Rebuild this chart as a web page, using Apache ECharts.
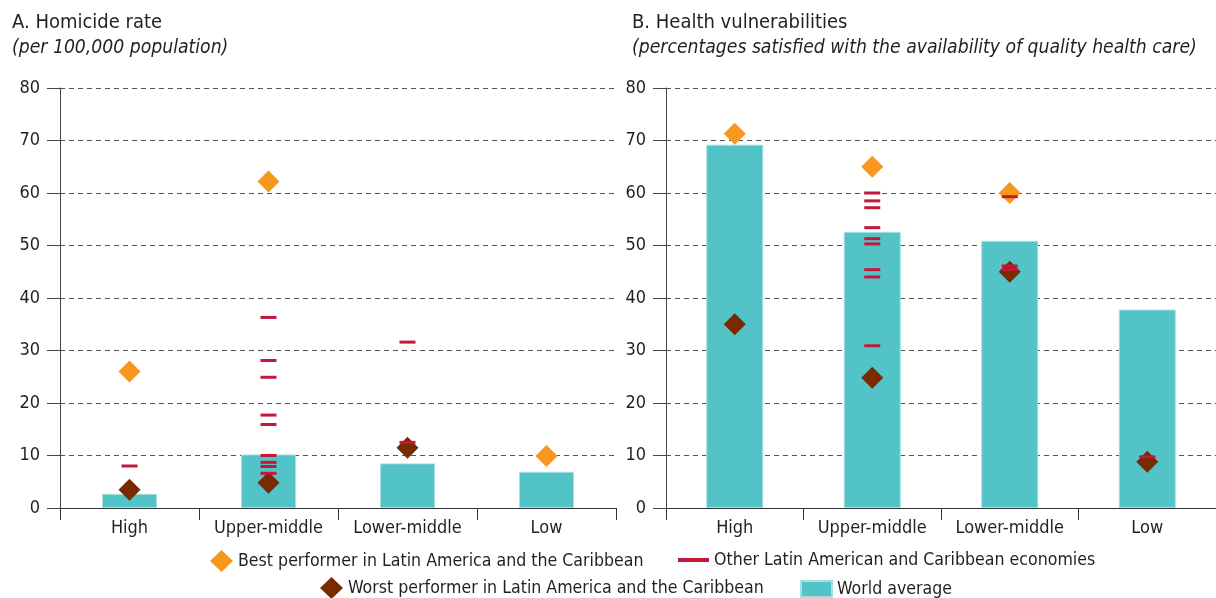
<!DOCTYPE html>
<html>
<head>
<meta charset="utf-8">
<script src="https://cdn.jsdelivr.net/npm/echarts@6/dist/echarts.min.js"></script>
<style>
  html, body { margin:0; padding:0; background:#fff; }
  #chart { width:1216px; height:598px; }
</style>
</head>
<body>
<div id="chart"></div>
<script>
const categories = ['High', 'Upper-middle', 'Lower-middle', 'Low']
const yTicks = [0, 10, 20, 30, 40, 50, 60, 70, 80]

// panel A: homicide rate per 100,000
const homicideWorld = [2.7, 10.2, 8.5, 6.9]
const homicideBest = [26, 62.2, null, 9.9]
const homicideWorst = [3.5, 4.8, 11.5, null]
const homicideOther = [
  ['High', 8],
  ['Upper-middle', 36.3], ['Upper-middle', 28.1], ['Upper-middle', 24.9],
  ['Upper-middle', 17.7], ['Upper-middle', 15.9], ['Upper-middle', 10.0],
  ['Upper-middle', 8.7], ['Upper-middle', 7.9], ['Upper-middle', 6.6],
  ['Lower-middle', 31.6], ['Lower-middle', 12.5],
]

// panel B: % satisfied with quality health care
const healthWorld = [69.2, 52.6, 50.9, 37.8]
const healthBest = [71.3, 65, 60, null]
const healthWorst = [35, 24.8, 45, 8.8]
const healthOther = [
  ['Upper-middle', 60.0], ['Upper-middle', 58.5], ['Upper-middle', 57.2],
  ['Upper-middle', 53.4], ['Upper-middle', 51.3], ['Upper-middle', 50.3],
  ['Upper-middle', 45.4], ['Upper-middle', 44.0], ['Upper-middle', 30.9],
  ['Lower-middle', 59.3], ['Lower-middle', 46.1], ['Lower-middle', 45.4],
  ['Low', 9.75],
]

const NAME_BEST = 'Best performer in Latin America and the Caribbean'
const NAME_WORST = 'Worst performer in Latin America and the Caribbean'
const NAME_OTHER = 'Other Latin American and Caribbean economies'
const NAME_WORLD = 'World average'

const FONT = "'Liberation Sans Narrow', 'DejaVu Sans Condensed', sans-serif"
const TEXT = '#231f20'
const TEAL = '#52c3c7'
const ORANGE = '#f7971e'
const BROWN = '#7a2a00'
const RED = '#c3183a'

function xAxisFor(gridIndex){
  return {
    type: 'category', gridIndex, data: categories,
    axisLine: { lineStyle: { color: '#333', width: 1 } },
    axisTick: { show: true, length: 12, interval: 0, lineStyle: { color: '#333' } },
    axisLabel: { fontFamily: FONT, fontSize: 18, color: TEXT, margin: 11, interval: 0 },
    splitLine: { show: false },
  }
}

function yAxisFor(gridIndex){
  return {
    type: 'value', gridIndex, min: yTicks[0], max: yTicks[yTicks.length - 1], interval: 10,
    axisLine: { show: true, lineStyle: { color: '#444', width: 1 } },
    axisTick: { show: true, length: 13, lineStyle: { color: '#444' } },
    axisLabel: { fontFamily: FONT, fontSize: 18, color: TEXT, margin: 20 },
    splitLine: { show: true, lineStyle: { color: '#555', type: [5, 4], width: 1 } },
  }
}

function seriesFor(idx, world, best, worst, other, barWidth){
  return [
    {
      name: NAME_WORLD, type: 'bar', xAxisIndex: idx, yAxisIndex: idx,
      data: world, barWidth,
      itemStyle: { color: TEAL, borderColor: '#a6dfe1', borderWidth: 1 },
      z: 2,
    },
    {
      name: NAME_BEST, type: 'scatter', xAxisIndex: idx, yAxisIndex: idx,
      data: best, symbol: 'diamond', symbolSize: 22,
      itemStyle: { color: ORANGE, opacity: 1 }, z: 3,
    },
    {
      name: NAME_WORST, type: 'scatter', xAxisIndex: idx, yAxisIndex: idx,
      data: worst, symbol: 'diamond', symbolSize: 22,
      itemStyle: { color: BROWN, opacity: 1 }, z: 4,
    },
    {
      name: NAME_OTHER, type: 'scatter', xAxisIndex: idx, yAxisIndex: idx,
      data: other, symbol: 'rect', symbolSize: [16, 3],
      itemStyle: { color: RED, opacity: 1 }, z: 5,
    },
  ]
}

const legendText = { fontFamily: FONT, fontSize: 17.6, color: TEXT, lineHeight: 22 }
function legendFor(name, icon, left, top, w, h){
  return {
    data: [{ name, icon }], left, top, padding: 0,
    itemWidth: w, itemHeight: h, itemGap: 0,
    selectedMode: false, textStyle: legendText,
  }
}

const titleStyle = { fontFamily: FONT, fontSize: 20, fontWeight: 'normal', color: TEXT, lineHeight: 24 }
const subtitleStyle = { fontFamily: FONT, fontSize: 19.2, fontStyle: 'italic', color: TEXT, lineHeight: 24 }

const chart = echarts.init(document.getElementById('chart'), null, { renderer: 'canvas' })
chart.setOption({
  animation: false,
  backgroundColor: '#fff',
  title: [
    {
      text: 'A. Homicide rate', subtext: '(per 100,000 population)',
      left: 12, top: 11, padding: 0, itemGap: 1,
      textStyle: titleStyle, subtextStyle: subtitleStyle,
    },
    {
      text: 'B. Health vulnerabilities', subtext: '(percentages satisfied with the availability of quality health care)',
      left: 632, top: 11, padding: 0, itemGap: 1,
      textStyle: titleStyle, subtextStyle: subtitleStyle,
    },
  ],
  legend: [
    legendFor(NAME_BEST, 'diamond', 210, 550, 23, 22),
    legendFor(NAME_OTHER, 'rect', 678, 549, 31, 4),
    legendFor(NAME_WORST, 'diamond', 320, 577, 23, 22),
    legendFor(NAME_WORLD, 'rect', 800, 578, 31, 16),
  ],
  grid: [
    { left: 60, top: 88, width: 556, height: 420 },
    { left: 666, top: 88, width: 556, height: 420 },
  ],
  xAxis: [xAxisFor(0), xAxisFor(1)],
  yAxis: [yAxisFor(0), yAxisFor(1)],
  series: [
    ...seriesFor(0, homicideWorld, homicideBest, homicideWorst, homicideOther, 55),
    ...seriesFor(1, healthWorld, healthBest, healthWorst, healthOther, 57),
  ],
})
</script>
</body>
</html>
